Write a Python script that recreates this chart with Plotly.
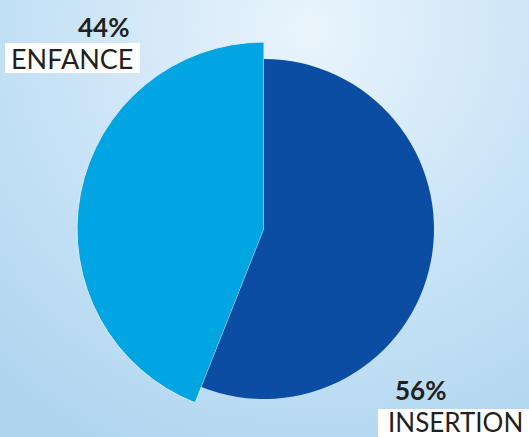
import base64
import plotly.graph_objects as go

categories = ["INSERTION", "ENFANCE"]
values = [56, 44]
pct_labels = ["56%", "44%"]

W, H = 529, 437
dark = "#0b4da2"
light = "#00a5e2"
text_col = "#231f20"

# background gradient as svg
svg = f'''<svg xmlns="http://www.w3.org/2000/svg" width="{W}" height="{H}" viewBox="0 0 {W} {H}" preserveAspectRatio="none">
<defs><radialGradient id="g" cx="310" cy="30" r="470" gradientUnits="userSpaceOnUse">
<stop offset="0" stop-color="#eaf4fc"/><stop offset="0.55" stop-color="#c8e3f6"/><stop offset="1" stop-color="#afd5ef"/></radialGradient></defs>
<rect width="{W}" height="{H}" fill="url(#g)"/></svg>'''
src = "data:image/svg+xml;base64," + base64.b64encode(svg.encode()).decode()

cx, cy = 264, 229
R_big, R_small = 187, 170

def dom(r):
    return dict(x=[(cx - r) / W, (cx + r) / W], y=[(H - cy - r) / H, (H - cy + r) / H])

fig = go.Figure()
fig.add_trace(go.Pie(
    labels=categories, values=values, sort=False, direction="clockwise", rotation=0,
    domain=dom(R_big), textinfo="none", hoverinfo="skip", showlegend=False,
    marker=dict(colors=["rgba(0,0,0,0)", light], line=dict(color=["rgba(0,0,0,0)", "#d6ebf8"], width=[0, 1])),
))
fig.add_trace(go.Pie(
    labels=categories, values=values, sort=False, direction="clockwise", rotation=0,
    domain=dom(R_small), textinfo="none", hoverinfo="skip", showlegend=False,
    marker=dict(colors=[dark, "rgba(0,0,0,0)"], line=dict(color=["rgba(0,0,0,0)", "rgba(0,0,0,0)"], width=[0, 0])),
))

def px(x):
    return x / W

def py(y):
    return 1 - y / H

shapes = [
    dict(type="rect", xref="paper", yref="paper", x0=px(5), x1=px(140), y0=py(73), y1=py(43),
         fillcolor="white", line=dict(width=0), layer="above"),
    dict(type="rect", xref="paper", yref="paper", x0=px(378), x1=px(540), y0=py(445), y1=py(409),
         fillcolor="white", line=dict(width=0), layer="above"),
]

font = "Lato"
annotations = [
    dict(text="<b>" + pct_labels[1] + "</b>", x=px(103), y=py(27), font=dict(size=26, color=text_col, family=font)),
    dict(text=categories[1], x=px(72), y=py(58), font=dict(size=27, color=text_col, family=font)),
    dict(text="<b>" + pct_labels[0] + "</b>", x=px(420), y=py(390), font=dict(size=26, color=text_col, family=font)),
    dict(text=categories[0], x=px(455), y=py(422), font=dict(size=26, color=text_col, family=font)),
]
for a in annotations:
    a.update(xref="paper", yref="paper", showarrow=False, xanchor="center", yanchor="middle")

fig.update_layout(
    width=W, height=H, margin=dict(l=0, r=0, t=0, b=0),
    paper_bgcolor="#c8e3f6", plot_bgcolor="rgba(0,0,0,0)",
    images=[dict(source=src, xref="paper", yref="paper", x=0, y=1, sizex=1, sizey=1,
                 sizing="stretch", layer="below", xanchor="left", yanchor="top")],
    shapes=shapes, annotations=annotations,
)
fig.write_html("out.html", config={"displayModeBar": False},
               post_script="document.body.style.margin='0';document.body.style.overflow='hidden';")
